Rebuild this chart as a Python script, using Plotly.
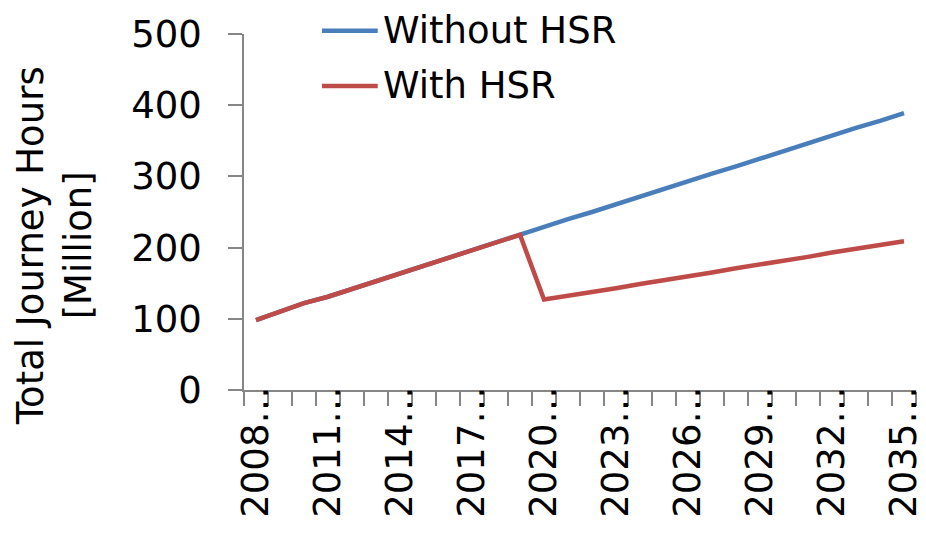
import plotly.graph_objects as go

years = [str(y) for y in range(2008, 2036)]
without_hsr = [98, 110, 122, 131, 142, 153, 164, 175, 186, 197, 207, 218,
               229, 240, 250, 261, 272, 282, 293, 304, 314, 325, 336, 346,
               357, 368, 378, 389]
with_hsr = [98, 110, 122, 131, 142, 153, 164, 175, 186, 197, 207, 218,
            127, 132, 138, 143, 149, 154, 160, 165, 171, 176, 182, 187,
            193, 198, 204, 209]
series_names = ["Without HSR", "With HSR"]
series_colors = ["#4A7EBB", "#BE4B48"]
label_years = [y for i, y in enumerate(years) if i % 3 == 0]
tick_text = [y + "\u2026" if y in label_years else "" for y in years]
y_ticks = [0, 100, 200, 300, 400, 500]
y_title = "Total Journey Hours<br>[Million]"

FONT = "DejaVu Sans"
GREY = "#868686"

fig = go.Figure()
for name, vals, col in zip(series_names, [without_hsr, with_hsr], series_colors):
    fig.add_trace(go.Scatter(x=years, y=vals, mode="lines", name=name,
                             line=dict(color=col, width=4.5), showlegend=False))

# manual legend (line sample + label)
leg_y = [1.009, 0.854]
for name, col, ly in zip(series_names, series_colors, leg_y):
    fig.add_shape(type="line", xref="paper", yref="paper", x0=0.116, x1=0.199,
                  y0=ly, y1=ly, line=dict(color=col, width=4.5))
    fig.add_annotation(xref="paper", yref="paper", x=0.205, y=ly, xanchor="left",
                       yanchor="middle", text=name, showarrow=False, borderpad=0,
                       font=dict(size=37, family=FONT, color="black"))

fig.add_annotation(xref="paper", yref="paper", x=-0.282, y=0.405, xanchor="center",
                   yanchor="middle", text=y_title, textangle=-90, showarrow=False,
                   font=dict(size=37, family=FONT, color="black"))

# page body has an 8px default margin; size figure so that it fits the window
fig.update_layout(
    width=918, height=527,
    margin=dict(l=236, r=10, t=26, b=145),
    paper_bgcolor="white", plot_bgcolor="white",
    font=dict(family=FONT, size=36, color="black"),
    showlegend=False,
    xaxis=dict(type="category", tickmode="array", tickvals=years, ticktext=tick_text,
               tickangle=-90, tickson="boundaries", ticks="outside", ticklen=14,
               tickcolor=GREY, tickwidth=1.5, showline=True, linecolor=GREY, linewidth=1.5,
               showgrid=False, zeroline=False, ticklabelstandoff=-20, automargin=False,
               tickfont=dict(size=37, family=FONT, color="black"),
               range=[-0.5, 27.5]),
    yaxis=dict(range=[0, 500], tickmode="array", tickvals=y_ticks, ticks="outside",
               ticklen=14, tickcolor=GREY, tickwidth=1.5, showline=True, linecolor=GREY,
               linewidth=1.5, showgrid=False, zeroline=False, ticklabelstandoff=19,
               automargin=False,
               tickfont=dict(size=37, family=FONT, color="black")),
)

fig.write_html("out.html")
